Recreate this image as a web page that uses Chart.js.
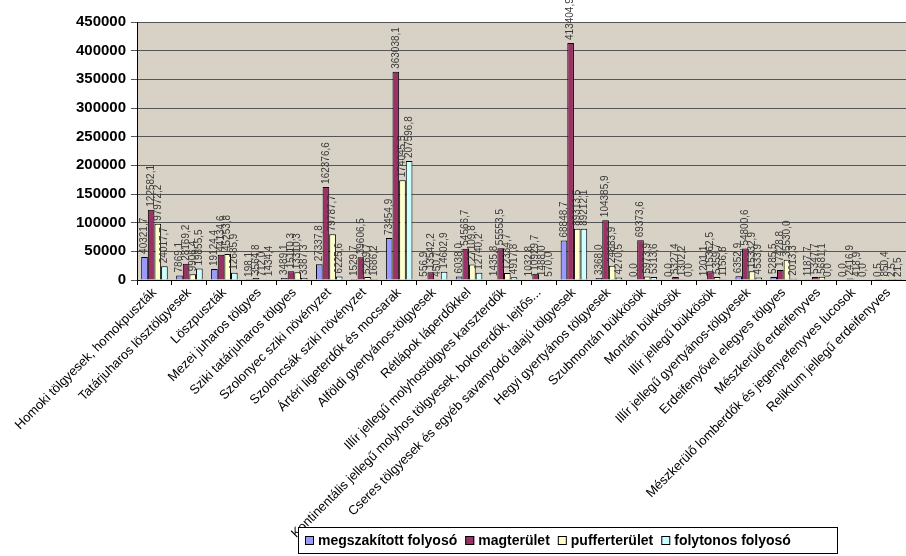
<!DOCTYPE html>
<html>
<head>
<meta charset="utf-8">
<script src="https://cdn.jsdelivr.net/npm/chart.js@4/dist/chart.umd.min.js"></script>
<style>
  html, body { margin: 0; padding: 0; background: #fff; }
  #wrap { position: relative; width: 906px; height: 556px; }
</style>
</head>
<body>
<div id="wrap"><canvas id="chart" width="906" height="556"></canvas></div>
<script>
const categories = [
    'Homoki tölgyesek, homokpuszták',
    'Tatárjuharos lösztölgyesek',
    'Löszpuszták',
    'Mezei juharos tölgyes',
    'Sziki tatárjuharos tölgyes',
    'Szolonyec sziki növényzet',
    'Szoloncsák sziki növényzet',
    'Ártéri ligeterdők és mocsarak',
    'Alföldi gyertyános-tölgyesek',
    'Rétlápok láperdőkkel',
    'Illír jellegű molyhostölgyes karszterdők',
    'Kontinentális jellegű molyhos tölgyesek, bokorerdők, lejtős...',
    'Cseres tölgyesek és egyéb savanyodó talajú tölgyesek',
    'Hegyi gyertyános tölgyesek',
    'Szubmontán bükkösök',
    'Montán bükkösök',
    'Illír jellegű bükkösök',
    'Illír jellegű gyertyános-tölgyesek',
    'Erdeifenyővel elegyes tölgyes',
    'Mészkerülő erdeifenyves',
    'Mészkerülő lomberdők és jegenyefenyves lucosok',
    'Reliktum jellegű erdeifenyves'
];

const megszakitott = [40321.7, 7869.1, 19124.4, 198.1, 3489.1, 27337.8, 1529.7, 73454.9, 556.9, 6038.0, 1435.8,
    1032.8, 68848.7, 3368.0, 0.0, 0.0, 1201.1, 6352.9, 5285.5, 1187.7, 0.0, 0.5];
const magterulet = [122582.1, 28169.2, 44134.6, 3564.8, 15110.3, 162376.6, 39606.5, 363038.1, 13542.2, 54566.7, 55553.5,
    10929.7, 413404.9, 104385.9, 69373.6, 5327.4, 15362.5, 54800.6, 17428.8, 5347.7, 2416.9, 850.4];
const puffer = [97972.2, 9906.4, 45253.8, 712.0, 13310.3, 79787.7, 5269.7, 174045.5, 450.7, 27109.8, 12334.7,
    1488.0, 89313.5, 24883.9, 5973.9, 1302.2, 5359.7, 15332.9, 35530.0, 5681.1, 418.9, 2.5];
const folytonos = [24017.7, 19855.5, 12685.9, 1434.4, 3387.3, 6225.6, 1686.2, 207596.8, 14602.9, 12740.2, 4917.8,
    570.0, 89212.1, 4270.5, 5313.6, 0.0, 1156.8, 4533.9, 2013.3, 0.0, 0.0, 21.5];

const seriesNames = ['megszakított folyosó', 'magterület', 'pufferterület', 'folytonos folyosó'];
const seriesColors = ['#9999ff', '#993366', '#ffffcc', '#ccffff'];
const yTicks = [0, 50000, 100000, 150000, 200000, 250000, 300000, 350000, 400000, 450000];

const FONT = "'Liberation Sans', Arial, sans-serif";

// plot background like the Excel chart
const plotBg = {
    id: 'plotBg',
    beforeDraw(chart) {
        const { ctx, chartArea: a } = chart;
        ctx.save();
        ctx.fillStyle = '#d8d2c6';
        ctx.fillRect(a.left, a.top, a.right - a.left, a.bottom - a.top);
        ctx.restore();
    }
};

// vertical value labels above every bar
const valueLabels = {
    id: 'valueLabels',
    afterDatasetsDraw(chart) {
        const ctx = chart.ctx;
        ctx.save();
        ctx.font = '10px ' + FONT;
        ctx.fillStyle = '#3a3a3a';
        ctx.textAlign = 'left';
        ctx.textBaseline = 'middle';
        chart.data.datasets.forEach((ds, i) => {
            chart.getDatasetMeta(i).data.forEach((bar, j) => {
                const txt = ds.data[j].toFixed(1).replace('.', ',');
                ctx.save();
                ctx.translate(bar.x, bar.y - 3);
                ctx.rotate(-Math.PI / 2);
                ctx.fillText(txt, 0, 0);
                ctx.restore();
            });
        });
        ctx.restore();
    }
};

// boxed legend at the bottom
const boxLegend = {
    id: 'boxLegend',
    afterDraw(chart) {
        const ctx = chart.ctx;
        const x0 = 298, y0 = 527, w = 539, h = 26;
        ctx.save();
        ctx.fillStyle = '#fff';
        ctx.fillRect(x0, y0, w, h);
        ctx.strokeStyle = '#000';
        ctx.lineWidth = 1;
        ctx.strokeRect(x0 + 0.5, y0 + 0.5, w, h);
        ctx.font = 'bold 14px ' + FONT;
        ctx.textBaseline = 'middle';
        let x = x0 + 7;
        const cy = y0 + h / 2 + 1;
        seriesNames.forEach((name, i) => {
            ctx.fillStyle = seriesColors[i];
            ctx.fillRect(x, cy - 5, 9, 9);
            ctx.strokeStyle = '#000';
            ctx.strokeRect(x + 0.5, cy - 4.5, 8, 8);
            ctx.fillStyle = '#000';
            ctx.fillText(name, x + 13, cy);
            x += 13 + ctx.measureText(name).width + 8;
        });
        ctx.restore();
    }
};

function makeSet(i, data) {
    return {
        label: seriesNames[i],
        data: data,
        backgroundColor: seriesColors[i],
        borderColor: '#000',
        borderWidth: 1,
        borderSkipped: 'bottom',
        categoryPercentage: 0.76,
        barPercentage: 1.0
    };
}

new Chart(document.getElementById('chart').getContext('2d'), {
    type: 'bar',
    data: {
        labels: categories,
        datasets: [
            makeSet(0, megszakitott),
            makeSet(1, magterulet),
            makeSet(2, puffer),
            makeSet(3, folytonos)
        ]
    },
    options: {
        responsive: false,
        animation: false,
        layout: { padding: { top: 22, right: 0, left: 0, bottom: 0 } },
        plugins: { legend: { display: false }, tooltip: { enabled: false } },
        scales: {
            x: {
                grid: { drawOnChartArea: false, drawTicks: true, tickLength: 5, color: '#000', offset: true },
                border: { color: '#000' },
                ticks: {
                    autoSkip: false, minRotation: 45, maxRotation: 45,
                    color: '#000', font: { family: FONT, size: 13 }, padding: 0
                },
                afterFit(scale) { scale.height = 276; }
            },
            y: {
                min: 0, max: 450000,
                afterBuildTicks(scale) { scale.ticks = yTicks.map(v => ({ value: v })); },
                grid: { color: '#555', tickLength: 6, drawTicks: true },
                border: { color: '#000' },
                ticks: {
                    color: '#000', font: { family: FONT, size: 15, weight: 'bold' }, padding: 5,
                    callback: v => String(v)
                },
                afterFit(scale) { scale.width = 137; }
            }
        }
    },
    plugins: [plotBg, valueLabels, boxLegend]
});
</script>
</body>
</html>
